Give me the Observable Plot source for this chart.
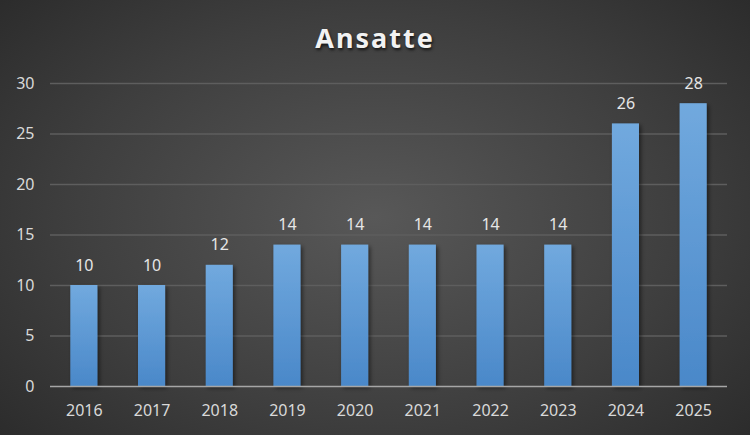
<!DOCTYPE html>
<html><head><meta charset="utf-8">
<script src="https://cdn.jsdelivr.net/npm/d3@7"></script>
<script src="https://cdn.jsdelivr.net/npm/@observablehq/plot@0.6"></script>
<style>
html,body{margin:0;padding:0;}
#wrap{width:750px;height:435px;position:relative;overflow:hidden;
 background:radial-gradient(ellipse 75% 85% at 50% 50%, #585858 0%, #3e3e3e 55%, #262626 100%);
 font-family:"Noto Sans","Open Sans",sans-serif;}
#title{position:absolute;top:19px;left:0;width:750px;text-align:center;color:#f2f2f2;
 font-size:27px;font-weight:bold;letter-spacing:2px;text-shadow:1px 2px 3px rgba(0,0,0,0.7);}
#chart{position:absolute;top:65px;left:0;}
svg{background:transparent;}
</style></head>
<body><div id="wrap"><div id="title">Ansatte</div><div id="chart"></div></div>
<script>
const years = ["2016","2017","2018","2019","2020","2021","2022","2023","2024","2025"];
const ansatte = [10,10,12,14,14,14,14,14,26,28];
const yTicks = [0,5,10,15,20,25,30];

const data = years.map((y,i)=>({year:y, value:ansatte[i]}));

const defs = () => {
  const g = d3.create("svg:defs");
  const lg = g.append("linearGradient").attr("id","barGrad").attr("x1",0).attr("y1",0).attr("x2",0).attr("y2",1);
  lg.append("stop").attr("offset","0%").attr("stop-color","#71a9de");
  lg.append("stop").attr("offset","100%").attr("stop-color","#4a88c9");
  const f = g.append("filter").attr("id","shadow").attr("x","-30%").attr("y","-10%").attr("width","160%").attr("height","130%");
  f.append("feDropShadow").attr("dx",2).attr("dy",2).attr("stdDeviation",2).attr("flood-color","#000").attr("flood-opacity",0.5);
  return g.node();
};

const chart = Plot.plot({
  width: 750,
  height: 370,
  marginTop: 18,
  marginBottom: 49,
  marginLeft: 50,
  marginRight: 23,
  style: {background:"transparent", fontFamily:"'Noto Sans','Open Sans',sans-serif", fontSize:"16px", color:"#d9d9d9"},
  x: {domain: years, paddingInner: 0.6, paddingOuter: 0.3, round: false, label: null, tickSize: 0, tickPadding: 18},
  y: {domain: [0,30], ticks: yTicks, label: null, tickSize: 0, tickPadding: 16},
  marks: [
    defs,
    Plot.gridY(yTicks.filter(d=>d>0), {stroke:"#5e5e5e", strokeOpacity:1, strokeWidth:1.5}),
    Plot.barY(data, {x:"year", y:"value", fill:"url(#barGrad)"}),
    Plot.ruleY([0], {stroke:"#a6a6a6", strokeWidth:1.5}),
    Plot.text(data, {x:"year", y:"value", text:d=>String(d.value), dy:-20, fill:"#e6e6e6", fontSize:16})
  ]
});
d3.select(chart).selectAll("rect").filter(function(){return this.getAttribute("fill")==="url(#barGrad)" || this.parentNode.getAttribute("fill")==="url(#barGrad)";}).attr("filter","url(#shadow)");
d3.select(chart).selectAll("g[aria-label='x-axis tick label'] text, g[aria-label='y-axis tick label'] text").attr("fill","#d9d9d9");
document.getElementById("chart").appendChild(chart);
</script></body></html>
